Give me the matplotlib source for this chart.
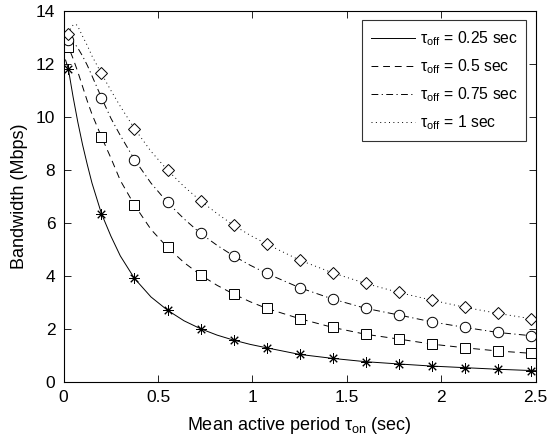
import matplotlib
matplotlib.use("Agg")
import matplotlib.pyplot as plt

plt.rcParams['font.family'] = ['Liberation Sans', 'DejaVu Sans']
plt.rcParams['mathtext.fontset'] = 'custom'
plt.rcParams['mathtext.rm'] = 'Liberation Sans'

# Marker positions (tau_on) and values
x_mark = [0.025, 0.2, 0.375, 0.55, 0.725, 0.9, 1.075, 1.25, 1.425, 1.6, 1.775, 1.95, 2.125, 2.3, 2.475]
m_025 = [11.8, 6.35, 3.9, 2.7, 2.0, 1.57, 1.28, 1.03, 0.88, 0.755, 0.67, 0.59, 0.53, 0.47, 0.42]
m_05 = [12.64, 9.25, 6.67, 5.07, 4.03, 3.31, 2.77, 2.38, 2.05, 1.79, 1.61, 1.42, 1.28, 1.16, 1.07]
m_075 = [12.9, 10.73, 8.39, 6.77, 5.6, 4.75, 4.09, 3.55, 3.12, 2.77, 2.52, 2.26, 2.05, 1.86, 1.74]
m_1 = [13.15, 11.64, 9.56, 7.99, 6.83, 5.91, 5.2, 4.59, 4.11, 3.71, 3.37, 3.08, 2.81, 2.58, 2.38]

# Curve samples
x_a = [0.01, 0.025, 0.05, 0.075, 0.1, 0.125, 0.15, 0.2, 0.25, 0.3, 0.375, 0.4625, 0.55, 0.6375,
       0.725, 0.8125, 0.9, 0.9875, 1.075, 1.25, 1.425, 1.6, 1.775, 1.95, 2.125, 2.3, 2.5]
y_025 = [12.15, 11.8, 10.75, 9.8, 8.95, 8.2, 7.5, 6.35, 5.5, 4.75, 3.9, 3.2, 2.7, 2.3,
         2.0, 1.76, 1.57, 1.41, 1.28, 1.03, 0.88, 0.755, 0.67, 0.59, 0.53, 0.47, 0.415]
y_05 = [12.85, 12.65, 12.2, 11.7, 11.15, 10.6, 10.1, 9.25, 8.45, 7.6, 6.67, 5.75, 5.07, 4.5,
        4.03, 3.64, 3.31, 3.02, 2.77, 2.38, 2.05, 1.79, 1.61, 1.42, 1.28, 1.16, 1.06]
x_b = [0.025, 0.05, 0.075, 0.1, 0.125, 0.15, 0.2, 0.25, 0.3, 0.375, 0.4625, 0.55, 0.6375,
       0.725, 0.8125, 0.9, 0.9875, 1.075, 1.25, 1.425, 1.6, 1.775, 1.95, 2.125, 2.3, 2.5]
y_075 = [12.95, 12.85, 12.6, 12.3, 11.95, 11.55, 10.73, 9.95, 9.3, 8.39, 7.5, 6.77, 6.15,
         5.6, 5.15, 4.75, 4.4, 4.09, 3.55, 3.12, 2.77, 2.52, 2.26, 2.05, 1.86, 1.72]
x_c = [0.025, 0.04, 0.05, 0.065, 0.075, 0.1, 0.125, 0.15, 0.2, 0.25, 0.3, 0.375, 0.4625, 0.55,
       0.6375, 0.725, 0.8125, 0.9, 0.9875, 1.075, 1.25, 1.425, 1.6, 1.775, 1.95, 2.125, 2.3, 2.5]
y_1 = [13.15, 13.38, 13.47, 13.5, 13.42, 13.05, 12.7, 12.3, 11.64, 11.0, 10.4, 9.56, 8.7, 7.99,
       7.37, 6.83, 6.35, 5.91, 5.53, 5.2, 4.59, 4.11, 3.71, 3.37, 3.08, 2.81, 2.58, 2.35]

labels = ['0.25', '0.5', '0.75', '1']
xticks = [0, 0.5, 1, 1.5, 2, 2.5]
xticklabels = ['0', '0.5', '1', '1.5', '2', '2.5']
yticks = [0, 2, 4, 6, 8, 10, 12, 14]

fig = plt.figure(figsize=(5.48, 4.44), dpi=100)
ax = fig.add_axes([0.1162, 0.1403, 0.8614, 0.8349])

lw = 0.7
styles = ['-', (0, (7, 5)), (0, (7, 3.5, 1.2, 3.5)), (0, (1, 3.5))]
curves = [(x_a, y_025), (x_a, y_05), (x_b, y_075), (x_c, y_1)]
for (xs, ys), ls, lab in zip(curves, styles, labels):
    ax.plot(xs, ys, color='black', lw=lw, linestyle=ls,
            label=r'τ$_{\mathregular{off}}$ = ' + lab + ' sec')

mk = dict(color='black', linestyle='none', mfc='white', mew=0.7, clip_on=True)
ax.plot(x_mark, m_025, marker=(8, 2, 0), ms=7.5, **mk)
ax.plot(x_mark, m_05, marker='s', ms=6.5, **mk)
ax.plot(x_mark, m_075, marker='o', ms=7.5, **mk)
ax.plot(x_mark, m_1, marker='D', ms=6.3, **mk)

ax.set_xlim(0, 2.5)
ax.set_ylim(0, 14)
ax.set_xticks(xticks)
ax.set_xticklabels(xticklabels)
ax.set_yticks(yticks)
ax.tick_params(direction='in', top=True, right=True, labelsize=12.5, length=5, width=0.6, pad=6)
for s in ax.spines.values():
    s.set_linewidth(0.8)

ax.set_xlabel(r'Mean active period τ$_{\mathregular{on}}$ (sec)', fontsize=13, labelpad=7)
ax.set_ylabel('Bandwidth (Mbps)', fontsize=13, labelpad=6)

leg = ax.legend(loc='upper right', fontsize=11.3, frameon=True, fancybox=False,
                edgecolor='black', handlelength=2.8, handletextpad=0.3,
                borderaxespad=0.6, labelspacing=0.6, borderpad=0.55)
leg.get_frame().set_linewidth(0.8)

fig.savefig('out.png', dpi=100)
